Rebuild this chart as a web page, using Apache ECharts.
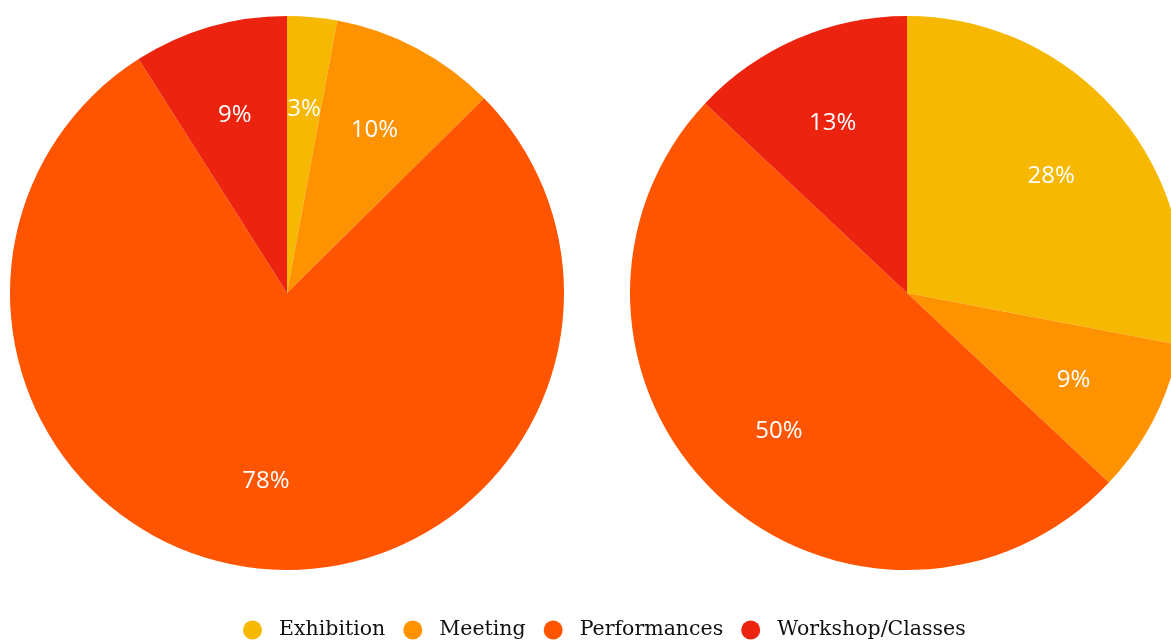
<!DOCTYPE html>
<html><head><meta charset="utf-8">
<script src="https://cdn.jsdelivr.net/npm/echarts@6/dist/echarts.min.js"></script>
<style>html,body{margin:0;padding:0;background:#fff}#c{width:1171px;height:641px}</style>
</head><body><div id="c"></div>
<script>
const categories = ['Exhibition', 'Meeting', 'Performances', 'Workshop/Classes'];
const leftValues = [2.9, 9.7, 78.4, 9.0];
const rightValues = [28, 9, 50, 13];
const colors = ['#F6B800', '#FF9200', '#FF5400', '#EC230E'];

const chart = echarts.init(document.getElementById('c'));
function toData(vals){ return categories.map((n,i)=>({name:n, value:vals[i]})); }
const labelFont = {color:'#fff', fontFamily:'Open Sans', fontSize:24};
function pieSeries(center, vals){
  return [{
    type:'pie', center:center, radius:277, startAngle:90, clockwise:true,
    data:toData(vals), label:{show:false}, labelLine:{show:false},
    itemStyle:{borderWidth:0}, emphasis:{disabled:true}, silent:true
  },{
    type:'pie', center:center, radius:[91,277], startAngle:90, clockwise:true,
    data:toData(vals), silent:true, emphasis:{disabled:true},
    itemStyle:{color:'rgba(0,0,0,0)', borderWidth:0},
    label:Object.assign({show:true, position:'inside', offset:[0,2],
      formatter:p=>Math.round(p.percent)+'%'}, labelFont),
    labelLine:{show:false}, legendHoverLink:false
  }];
}
chart.setOption({
  animation:false,
  color:colors,
  legend:{
    data:categories, top:614, left:238, icon:'circle',
    itemWidth:19, itemHeight:19, itemGap:18,
    textStyle:{fontFamily:'DejaVu Serif', fontSize:20.5, color:'#111', padding:[0,0,0,12], lineHeight:22}
  },
  series:[...pieSeries([287,293], leftValues), ...pieSeries([907,293], rightValues)]
});
</script></body></html>
